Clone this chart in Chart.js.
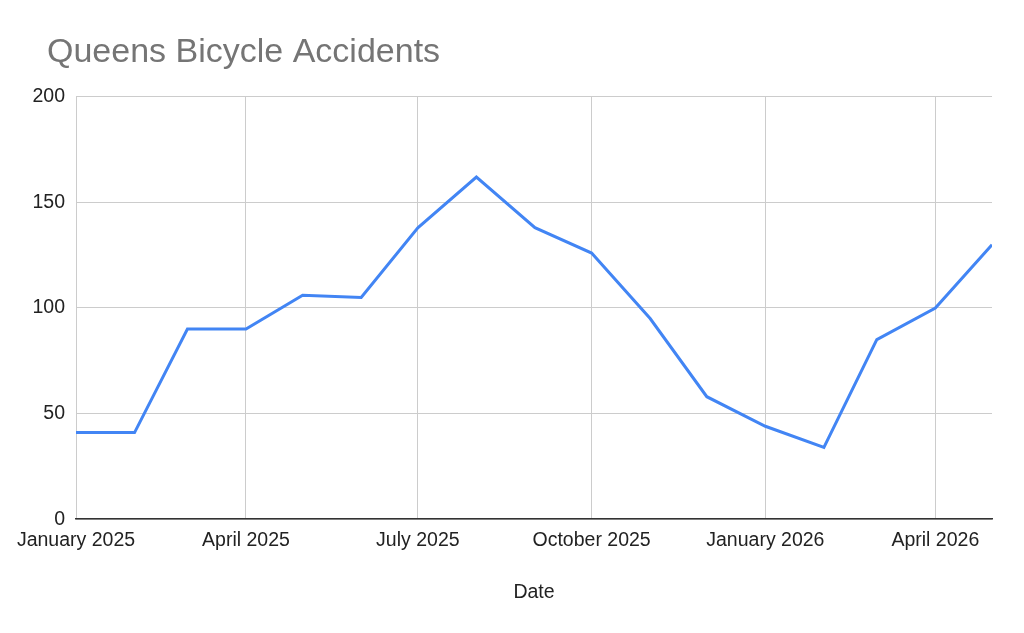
<!DOCTYPE html>
<html>
<head>
<meta charset="utf-8">
<title>Queens Bicycle Accidents</title>
<script src="https://cdn.jsdelivr.net/npm/chart.js@4/dist/chart.umd.min.js"></script>
<style>
    html, body { margin: 0; padding: 0; background: #fff; }
    #wrap { width: 1024px; height: 633px; }
</style>
</head>
<body>
<div id="wrap"><canvas id="accidentChart"></canvas></div>
<script>
// Monthly data
const months = ['2025-01', '2025-02', '2025-03', '2025-04', '2025-05', '2025-06', '2025-07', '2025-08',
    '2025-09', '2025-10', '2025-11', '2025-12', '2026-01', '2026-02', '2026-03', '2026-04', '2026-05'];
const accidents = [41, 41, 90, 90, 106, 105, 138, 162, 138, 126, 95, 58, 44, 34, 85, 100, 130];
const tickMonths = ['2025-01', '2025-04', '2025-07', '2025-10', '2026-01', '2026-04'];
const monthNames = ['January', 'February', 'March', 'April', 'May', 'June', 'July',
    'August', 'September', 'October', 'November', 'December'];
const yTicks = [0, 50, 100, 150, 200];

// days since epoch, so the x axis is spaced like a real calendar
function toDay(str) {
    const parts = str.split('-');
    return Date.UTC(+parts[0], +parts[1] - 1, 1) / 86400000;
}

function dayLabel(day) {
    const d = new Date(day * 86400000);
    return monthNames[d.getUTCMonth()] + ' ' + d.getUTCFullYear();
}

const points = months.map((m, i) => ({ x: toDay(m), y: accidents[i] }));
const fontFamily = '"Liberation Sans", Arial, sans-serif';

// Indent the title like the original (title padding has no left side)
const titleIndent = {
    id: 'titleIndent',
    afterLayout: function(chart) {
        if (chart.titleBlock) {
            chart.titleBlock.left = 47;
        }
    }
};

const ctx = document.getElementById('accidentChart').getContext('2d');
const chart = new Chart(ctx, {
    type: 'line',
    data: {
        datasets: [{
            label: 'Queens Bicycle Accidents',
            data: points,
            borderColor: '#4285f4',
            backgroundColor: '#4285f4',
            borderWidth: 3,
            pointRadius: 0,
            tension: 0,
            fill: false
        }]
    },
    plugins: [titleIndent],
    options: {
        responsive: true,
        maintainAspectRatio: false,
        animation: false,
        layout: {
            padding: { left: 0, right: 32, top: 0, bottom: 29 }
        },
        plugins: {
            legend: { display: false },
            tooltip: { enabled: false },
            title: {
                display: true,
                text: 'Queens Bicycle Accidents',
                align: 'start',
                color: '#757575',
                font: { family: fontFamily, size: 34, weight: 'normal' },
                padding: { top: 32, bottom: 24 }
            }
        },
        scales: {
            x: {
                type: 'linear',
                min: toDay(months[0]),
                max: toDay(months[months.length - 1]),
                afterBuildTicks: function(scale) {
                    scale.ticks = tickMonths.map(m => ({ value: toDay(m) }));
                },
                ticks: {
                    color: '#222',
                    font: { family: fontFamily, size: 19.5 },
                    padding: 10,
                    maxRotation: 0,
                    autoSkip: false,
                    callback: function(value) { return dayLabel(value); }
                },
                grid: { color: '#cccccc', lineWidth: 1, drawTicks: false },
                border: { display: true, color: '#333333', width: 1.5 },
                title: {
                    display: true,
                    text: 'Date',
                    color: '#222',
                    font: { family: fontFamily, size: 19.5 },
                    padding: { top: 18, bottom: 0 }
                }
            },
            y: {
                min: 0,
                max: 200,
                afterBuildTicks: function(scale) {
                    scale.ticks = yTicks.map(v => ({ value: v }));
                },
                afterFit: function(scale) {
                    scale.width = 76;
                },
                ticks: {
                    color: '#222',
                    font: { family: fontFamily, size: 19.5 },
                    padding: 11
                },
                grid: { color: '#cccccc', lineWidth: 1, drawTicks: false },
                border: { display: false }
            }
        }
    }
});
</script>
</body>
</html>
